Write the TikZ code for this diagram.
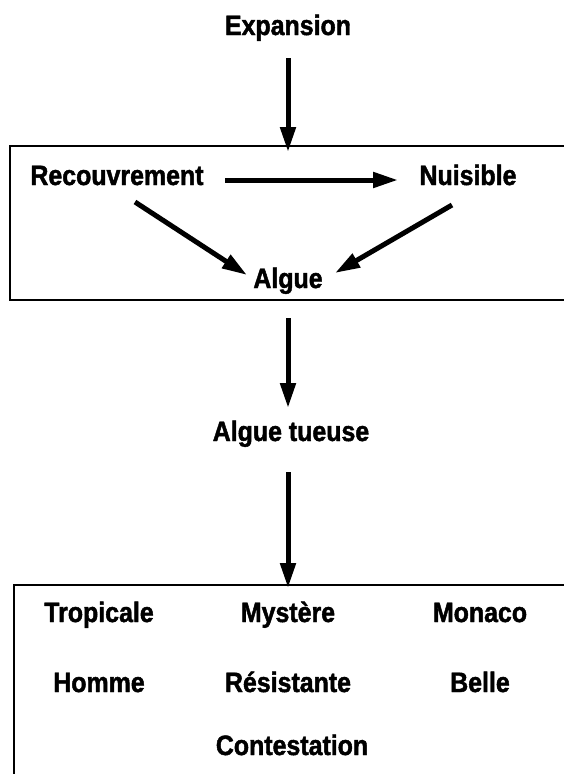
\documentclass[tikz,border=0pt]{standalone}
\usepackage{fontspec}
\newfontfamily\diagfont{Liberation Sans}[FakeStretch=0.89,BoldFeatures={FakeBold=1.6}]
\usepackage{tikz}
\usetikzlibrary{arrows.meta,positioning,calc}

\begin{document}
\begin{tikzpicture}[x=1pt,y=-1pt,
word/.style={font=\diagfont\fontsize{28}{32}\selectfont\bfseries, inner sep=0pt, anchor=base},
arr/.style={line width=5pt, -{Triangle[length=25pt,width=15pt]}},
frame/.style={line width=2.6pt, draw=black}
]
\useasboundingbox (0,0) rectangle (563,774);
% Top level
\node[word] (expansion) at (288,35) {Expansion};
% First box
\draw[frame] (10,146) rectangle (600,300);
\coordinate (boxtop) at (288,152);
\node[word] (recouv) at (117,185) {Recouvrement};
\node[word] (nuisible) at (468,185) {Nuisible};
\node[word] (algue) at (288,288) {Algue};
\draw[arr] ($(expansion.base)+(0,23)$) -- (boxtop);
\draw[arr] ($(recouv.base)+(108,-5)$) -- ($(nuisible.base)+(-70,-5)$);
\draw[arr] ($(recouv.base)+(18,17)$) -- ($(algue.base)+(-41,-13)$);
\draw[arr] ($(nuisible.base)+(-16,20)$) -- ($(algue.base)+(47,-15)$);
% Middle
\node[word] (tueuse) at (291,441) {Algue tueuse};
\draw[arr] ($(algue.base)+(0,30)$) -- ($(tueuse.base)+(-3,-33)$);
% Second box
\draw[frame] (14,585) rectangle (600,800);
\coordinate (box2top) at (288,588);
\draw[arr] ($(tueuse.base)+(-3,31)$) -- (box2top);
\node[word] (tropicale) at (99,622) {Tropicale};
\node[word] (mystere) at (288,622) {Mystère};
\node[word] (monaco) at (480,622) {Monaco};
\node[word] (homme) at (99,692) {Homme};
\node[word] (resist) at (288,692) {Résistante};
\node[word] (belle) at (480,692) {Belle};
\node[word] (contest) at (292,755) {Contestation};
\end{tikzpicture}
\end{document}
